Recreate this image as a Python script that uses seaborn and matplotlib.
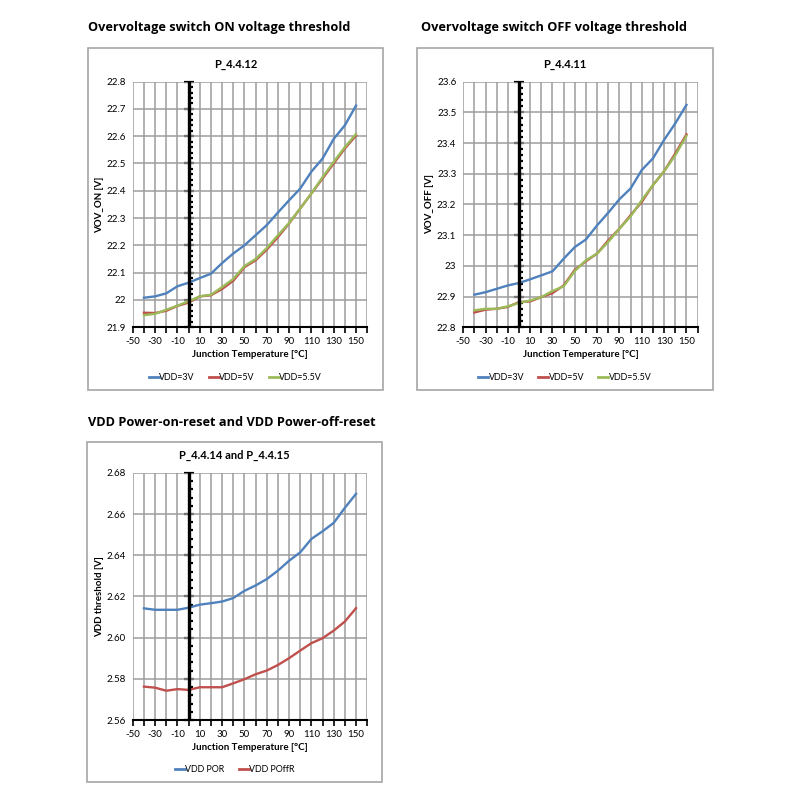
import numpy as np
import pandas as pd
import matplotlib
matplotlib.use('Agg')
import matplotlib.pyplot as plt
import matplotlib.ticker as mticker
from matplotlib.patches import Rectangle
from matplotlib.lines import Line2D
import seaborn as sns

# Datos (temperatura de union en grados C)
temps = [-40, -30, -20, -10, 0, 10, 20, 30, 40, 50, 60, 70, 80, 90, 100, 110, 120, 130, 140, 150]

# P_4.4.12 - VOV_ON
von_3v = [22.008, 22.013, 22.024, 22.05, 22.063, 22.08, 22.096, 22.135, 22.17, 22.20,
          22.237, 22.274, 22.32, 22.365, 22.408, 22.47, 22.518, 22.59, 22.64, 22.712]
von_5v = [21.953, 21.952, 21.96, 21.978, 21.99, 22.013, 22.017, 22.04, 22.07, 22.12,
          22.145, 22.184, 22.23, 22.28, 22.335, 22.39, 22.445, 22.50, 22.555, 22.602]
von_55v = [21.944, 21.949, 21.964, 21.979, 21.995, 22.013, 22.019, 22.047, 22.077, 22.124,
           22.15, 22.19, 22.237, 22.282, 22.335, 22.39, 22.45, 22.506, 22.56, 22.608]

# P_4.4.11 - VOV_OFF
voff_3v = [22.906, 22.914, 22.925, 22.936, 22.944, 22.956, 22.969, 22.982, 23.023, 23.061,
           23.086, 23.132, 23.173, 23.217, 23.252, 23.312, 23.35, 23.41, 23.464, 23.524]
voff_5v = [22.848, 22.857, 22.86, 22.866, 22.882, 22.884, 22.898, 22.911, 22.936, 22.987,
           23.015, 23.04, 23.083, 23.121, 23.165, 23.208, 23.263, 23.308, 23.366, 23.428]
voff_55v = [22.855, 22.86, 22.86, 22.868, 22.879, 22.887, 22.898, 22.918, 22.933, 22.983,
            23.018, 23.04, 23.078, 23.121, 23.161, 23.214, 23.263, 23.308, 23.36, 23.423]

# P_4.4.14 y P_4.4.15 - POR / POffR
vdd_por = [2.6142, 2.6135, 2.6135, 2.6135, 2.6145, 2.616, 2.6167, 2.6175, 2.6192, 2.6227,
           2.6253, 2.6284, 2.6325, 2.6373, 2.6414, 2.6479, 2.6516, 2.6557, 2.663, 2.6698]
vdd_poffr = [2.5762, 2.5757, 2.5742, 2.575, 2.5746, 2.5759, 2.5759, 2.5759, 2.5778, 2.5798,
             2.5822, 2.584, 2.5867, 2.59, 2.5937, 2.5973, 2.5997, 2.6034, 2.6078, 2.6143]

vdd_labels = ['VDD=3V', 'VDD=5V', 'VDD=5.5V']
reset_labels = ['VDD POR', 'VDD POffR']
colores = ['#4f81bd', '#c0504d', '#9bbb59']

chart_font = 'Lato'
title_font = 'Open Sans'


def to_long(series, labels):
    frames = [pd.DataFrame({'temp': temps, 'valor': s, 'serie': lab}) for s, lab in zip(series, labels)]
    return pd.concat(frames, ignore_index=True)


fig = plt.figure(figsize=(8, 8), dpi=100)
fig.patch.set_facecolor('white')


def panel(rect, box, df, labels, ylim, ystep, yfmt, ylabel, titulo):
    # marco gris del grafico
    fig.patches.append(Rectangle((box[0], box[1]), box[2], box[3], transform=fig.transFigure,
                                 facecolor='white', edgecolor='#a6a6a6', lw=1.2, zorder=-5))
    ax = fig.add_axes(rect)
    ax.set_zorder(3)
    sns.lineplot(data=df, x='temp', y='valor', hue='serie', hue_order=labels,
                 palette=colores[:len(labels)], lw=1.7, ax=ax, legend=False)
    ax.set_xlim(-50, 160)
    ax.set_ylim(*ylim)
    ax.xaxis.set_major_locator(mticker.MultipleLocator(10))
    ax.xaxis.set_major_formatter(mticker.FuncFormatter(
        lambda v, p: '%d' % v if round(v + 50) % 20 == 0 and v <= 150 else ''))
    ax.yaxis.set_major_locator(mticker.MultipleLocator(ystep))
    ax.yaxis.set_major_formatter(mticker.FuncFormatter(yfmt))
    ax.grid(True, color='#9c9c9c', lw=1.1)
    ax.set_axisbelow(True)
    for s in ['top', 'right', 'left']:
        ax.spines[s].set_visible(False)
    ax.spines['bottom'].set_linewidth(1.5)
    ax.spines['bottom'].set_zorder(4)
    ax.tick_params(axis='x', direction='out', length=4, width=1.2, labelsize=7, pad=3)
    ax.tick_params(axis='y', length=0, labelsize=7, pad=5)
    for t in ax.get_xticklabels() + ax.get_yticklabels():
        t.set_fontfamily(chart_font)
    ax.set_xlabel('Junction Temperature [°C]', fontsize=7, fontweight='bold', family=chart_font, labelpad=3)
    ax.set_ylabel(ylabel, fontsize=7, fontweight='bold', family=chart_font, labelpad=2)

    # eje vertical negro en x=0 con marcas menores
    ax.axvline(0, color='black', lw=2.4, zorder=2.5)
    eje = ax.secondary_yaxis(50 / 210)
    for s in eje.spines.values():
        s.set_visible(False)
    eje.yaxis.set_ticks_position('left')
    eje.yaxis.set_major_locator(mticker.MultipleLocator(ystep))
    eje.yaxis.set_minor_locator(mticker.MultipleLocator(ystep / 5))
    eje.tick_params(which='major', direction='inout', length=7, width=1.6, labelleft=False, color='black')
    eje.tick_params(which='minor', direction='in', length=3, width=1.6, color='black')

    cx = box[0] + box[2] / 2
    fig.text(cx, rect[1] + rect[3] + 0.022, titulo, ha='center', va='center',
             fontsize=8, fontweight='bold', family=chart_font)
    handles = [Line2D([], [], color=c, lw=2) for c in colores[:len(labels)]]
    fig.legend(handles, labels, loc='center', bbox_to_anchor=(cx, box[1] + 0.015),
               ncol=len(labels), frameon=False, prop={'family': chart_font, 'size': 6.4},
               handlelength=1.1, handletextpad=0.05, columnspacing=1.6)
    return ax


fmt_g = lambda v, p: '%g' % round(v, 3)
fmt_2 = lambda v, p: '%.2f' % v

panel([0.166, 0.591, 0.293, 0.307], (0.110, 0.5125, 0.369, 0.4275),
      to_long([von_3v, von_5v, von_55v], vdd_labels), vdd_labels,
      (21.9, 22.8), 0.1, fmt_g, 'VOV_ON [V]', 'P_4.4.12')
panel([0.579, 0.591, 0.293, 0.307], (0.521, 0.5125, 0.370, 0.4275),
      to_long([voff_3v, voff_5v, voff_55v], vdd_labels), vdd_labels,
      (22.8, 23.6), 0.1, fmt_g, 'VOV_OFF [V]', 'P_4.4.11')
panel([0.166, 0.100, 0.293, 0.309], (0.109, 0.0225, 0.369, 0.425),
      to_long([vdd_por, vdd_poffr], reset_labels), reset_labels,
      (2.56, 2.68), 0.02, fmt_2, 'VDD threshold [V]', 'P_4.4.14 and P_4.4.15')

# titulos de seccion
fig.text(0.110, 1 - 28 / 800, 'Overvoltage switch ON voltage threshold', ha='left', va='center',
         fontsize=9.2, fontweight='bold', family=title_font)
fig.text(0.526, 1 - 28 / 800, 'Overvoltage switch OFF voltage threshold', ha='left', va='center',
         fontsize=9.2, fontweight='bold', family=title_font)
fig.text(0.110, 1 - 422 / 800, 'VDD Power-on-reset and VDD Power-off-reset', ha='left', va='center',
         fontsize=9.2, fontweight='bold', family=title_font)

fig.savefig('out.png', dpi=100, facecolor='white')
